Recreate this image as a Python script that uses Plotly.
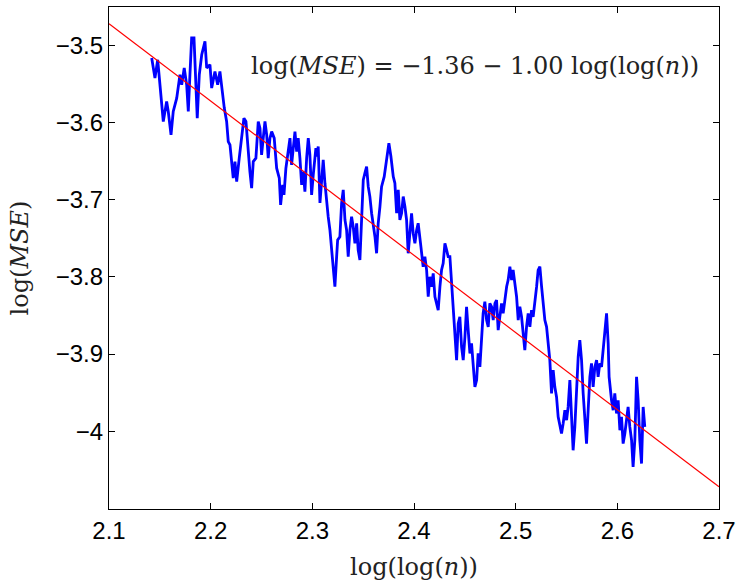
import plotly.graph_objects as go

# ---- data ----
x_loglog_n = [
    2.1420, 2.1452, 2.1479, 2.1501, 2.1518, 2.1534, 2.1567, 2.1583, 2.1610, 2.1632,
    2.1666, 2.1681, 2.1698, 2.1715, 2.1740, 2.1764, 2.1780, 2.1796, 2.1813, 2.1836,
    2.1846, 2.1868, 2.1888, 2.1912, 2.1944, 2.1961, 2.1993, 2.2010, 2.2042, 2.2069,
    2.2091, 2.2114, 2.2134, 2.2157, 2.2173, 2.2190, 2.2207, 2.2222, 2.2239, 2.2256,
    2.2281, 2.2305, 2.2327, 2.2347, 2.2370, 2.2386, 2.2403, 2.2419, 2.2445, 2.2468,
    2.2485, 2.2501, 2.2517, 2.2534, 2.2551, 2.2566, 2.2583, 2.2600, 2.2625, 2.2649,
    2.2675, 2.2688, 2.2708, 2.2721, 2.2740, 2.2763, 2.2780, 2.2796, 2.2812, 2.2829,
    2.2846, 2.2861, 2.2878, 2.2895, 2.2911, 2.2927, 2.2944, 2.2960, 2.2976, 2.2993,
    2.3009, 2.3035, 2.3042, 2.3058, 2.3075, 2.3091, 2.3107, 2.3124, 2.3141, 2.3156,
    2.3173, 2.3190, 2.3206, 2.3222, 2.3239, 2.3249, 2.3271, 2.3288, 2.3304, 2.3321,
    2.3337, 2.3353, 2.3370, 2.3386, 2.3402, 2.3419, 2.3436, 2.3451, 2.3468, 2.3485,
    2.3501, 2.3517, 2.3534, 2.3550, 2.3566, 2.3583, 2.3599, 2.3616, 2.3632, 2.3648,
    2.3665, 2.3681, 2.3707, 2.3731, 2.3753, 2.3773, 2.3796, 2.3812, 2.3829, 2.3845,
    2.3861, 2.3878, 2.3894, 2.3911, 2.3927, 2.3943, 2.3960, 2.3976, 2.3992, 2.4009,
    2.4026, 2.4041, 2.4068, 2.4090, 2.4107, 2.4124, 2.4140, 2.4156, 2.4173, 2.4189,
    2.4206, 2.4222, 2.4238, 2.4255, 2.4271, 2.4287, 2.4304, 2.4321, 2.4336, 2.4353,
    2.4370, 2.4385, 2.4402, 2.4419, 2.4435, 2.4451, 2.4468, 2.4484, 2.4501, 2.4517,
    2.4533, 2.4550, 2.4566, 2.4582, 2.4599, 2.4616, 2.4631, 2.4648, 2.4665, 2.4680,
    2.4697, 2.4714, 2.4730, 2.4746, 2.4763, 2.4779, 2.4796, 2.4812, 2.4828, 2.4845,
    2.4861, 2.4877, 2.4894, 2.4911, 2.4926, 2.4943, 2.4960, 2.4975, 2.4992, 2.5009,
    2.5025, 2.5041, 2.5058, 2.5074, 2.5090, 2.5107, 2.5123, 2.5140, 2.5156, 2.5172,
    2.5189, 2.5206, 2.5221, 2.5238, 2.5255, 2.5270, 2.5287, 2.5304, 2.5320, 2.5336,
    2.5353, 2.5369, 2.5385, 2.5402, 2.5418, 2.5435, 2.5451, 2.5467, 2.5484, 2.5501,
    2.5516, 2.5533, 2.5550, 2.5565, 2.5582, 2.5599, 2.5615, 2.5631, 2.5648, 2.5664,
    2.5680, 2.5697, 2.5713, 2.5730, 2.5746, 2.5762, 2.5779, 2.5796, 2.5811, 2.5828,
    2.5845, 2.5860, 2.5877, 2.5894, 2.5910, 2.5919, 2.5943, 2.5959, 2.5975, 2.5992,
    2.6008, 2.6025, 2.6041, 2.6057, 2.6074, 2.6091, 2.6106, 2.6123, 2.6140, 2.6155,
    2.6172, 2.6189, 2.6205, 2.6221, 2.6238, 2.6254, 2.6270,
]
log_mse = [
    -3.5164, -3.5423, -3.5186, -3.5510, -3.5727, -3.5986, -3.5727, -3.5856, -3.6159, -3.5856,
    -3.5683, -3.5510, -3.5380, -3.5510, -3.5293, -3.5510, -3.5856, -3.5380, -3.4904, -3.4904,
    -3.5293, -3.5942, -3.5380, -3.5121, -3.4948, -3.5293, -3.5250, -3.5553, -3.5337, -3.5510,
    -3.5337, -3.5597, -3.5812, -3.5986, -3.6246, -3.6289, -3.6548, -3.6721, -3.6505, -3.6765,
    -3.6461, -3.6202, -3.5942, -3.5986, -3.6418, -3.6635, -3.6850, -3.6505, -3.6461, -3.5986,
    -3.6072, -3.6418, -3.6202, -3.5986, -3.6159, -3.6461, -3.6202, -3.6116, -3.6202, -3.6591,
    -3.6721, -3.7067, -3.6808, -3.6937, -3.6591, -3.6376, -3.6202, -3.6548, -3.6289, -3.6116,
    -3.6376, -3.6202, -3.6461, -3.6808, -3.6635, -3.6895, -3.6461, -3.6202, -3.6418, -3.6937,
    -3.6678, -3.6331, -3.6440, -3.6311, -3.7041, -3.6743, -3.6483, -3.6786, -3.7041, -3.7219,
    -3.7392, -3.7651, -3.7824, -3.8127, -3.7738, -3.7521, -3.7479, -3.7045, -3.6873, -3.7262,
    -3.7392, -3.7738, -3.7392, -3.7219, -3.7349, -3.7564, -3.7305, -3.7651, -3.7781, -3.7175,
    -3.6743, -3.6656, -3.6570, -3.6830, -3.6959, -3.7175, -3.7305, -3.7479, -3.7694, -3.7305,
    -3.7089, -3.6830, -3.6700, -3.6440, -3.6267, -3.6440, -3.6700, -3.6786, -3.7175, -3.6873,
    -3.7262, -3.7175, -3.6959, -3.7089, -3.7262, -3.7694, -3.7434, -3.7175, -3.7434, -3.7564,
    -3.7392, -3.7305, -3.7608, -3.7868, -3.7738, -3.7911, -3.8257, -3.7998, -3.8127, -3.7954,
    -3.8257, -3.8343, -3.8430, -3.8127, -3.7911, -3.7824, -3.7564, -3.7651, -3.7738, -3.7738,
    -3.8083, -3.8343, -3.8602, -3.9079, -3.8602, -3.8517, -3.8906, -3.9079, -3.8776, -3.8387,
    -3.8689, -3.8992, -3.8862, -3.9121, -3.9425, -3.9338, -3.8992, -3.9166, -3.8819, -3.8473,
    -3.8322, -3.8560, -3.8647, -3.8343, -3.8387, -3.8560, -3.8343, -3.8300, -3.8689, -3.8517,
    -3.8343, -3.8473, -3.8257, -3.8127, -3.8041, -3.7868, -3.8041, -3.7911, -3.8083, -3.8257,
    -3.8560, -3.8387, -3.8517, -3.8732, -3.8949, -3.8647, -3.8473, -3.8647, -3.8430, -3.8517,
    -3.8343, -3.8127, -3.7911, -3.7868, -3.8127, -3.8387, -3.8560, -3.8647, -3.8862, -3.9079,
    -3.9511, -3.9208, -3.9425, -3.9555, -3.9814, -3.9944, -4.0030, -3.9900, -3.9728, -3.9857,
    -3.9685, -3.9338, -3.9944, -4.0247, -3.9944, -3.9425, -3.9036, -3.8819, -3.9079, -3.9511,
    -3.9814, -4.0160, -3.9728, -3.9295, -3.9121, -3.9425, -3.9166, -3.9079, -3.9295, -3.9121,
    -3.9166, -3.8949, -3.8689, -3.8473, -3.8862, -3.9295, -3.9598, -3.9728, -3.9511, -3.9770,
    -3.9598, -3.9987, -3.9814, -4.0160, -4.0030, -3.9814, -3.9685, -3.9944, -4.0117, -4.0463,
    -4.0117, -3.9295, -3.9598, -4.0117, -4.0419, -3.9685, -3.9944,
]

# fitted line  log(MSE) = a + b*log(log(n))
fit_intercept = -1.372
fit_slope = -1.00
fit_x = [2.1, 2.7]
fit_y = [fit_intercept + fit_slope * v for v in fit_x]

x_tick_vals = [2.1, 2.2, 2.3, 2.4, 2.5, 2.6, 2.7]
x_tick_labels = ["2.1", "2.2", "2.3", "2.4", "2.5", "2.6", "2.7"]
y_tick_vals = [-4.0, -3.9, -3.8, -3.7, -3.6, -3.5]
y_tick_labels = ["\u22124", "\u22123.9", "\u22123.8", "\u22123.7", "\u22123.6", "\u22123.5"]

equation_text = "log(<i>MSE</i>) = \u22121.36 \u2212 1.00 log(log(<i>n</i>))"
x_title = "log(log(<i>n</i>))"
y_title = "log(<i>MSE</i>)"

fig = go.Figure()
fig.add_trace(go.Scatter(x=x_loglog_n, y=log_mse, mode="lines",
                         line=dict(color="#0000FF", width=2.8), showlegend=False))
fig.add_trace(go.Scatter(x=fit_x, y=fit_y, mode="lines",
                         line=dict(color="#FF0000", width=1.2), showlegend=False))

serif = "DejaVu Serif, Liberation Serif, serif"
sans = "Liberation Sans, Arial, sans-serif"

axis_common = dict(showgrid=False, zeroline=False, showline=True, linecolor="black",
                   linewidth=1.2, mirror="ticks", ticks="inside", ticklen=6,
                   tickcolor="black", tickwidth=1, automargin=False,
                   tickfont=dict(family=sans, size=24, color="black"))

fig.update_layout(
    width=738, height=583, autosize=False,
    margin=dict(l=109, r=19, t=7, b=74),
    paper_bgcolor="white", plot_bgcolor="white",
    xaxis=dict(range=[2.1, 2.7], tickmode="array", tickvals=x_tick_vals,
               ticktext=x_tick_labels,
               title=dict(text=x_title, font=dict(family=serif, size=24, color="#222"),
                          standoff=15),
               **axis_common),
    yaxis=dict(range=[-4.1008, -3.4502], tickmode="array", tickvals=y_tick_vals,
               ticktext=y_tick_labels,
               title=dict(text=y_title, font=dict(family=serif, size=24, color="#222"),
                          standoff=20),
               **axis_common),
    annotations=[dict(x=2.682, y=-3.527, xref="x", yref="y", xanchor="right",
                      yanchor="middle", showarrow=False, text=equation_text,
                      font=dict(family=serif, size=24, color="#222"))],
)

fig.write_html(
    "out.html",
    config={"displayModeBar": False, "responsive": False},
    post_script="document.body.style.margin='0';document.body.style.overflow='hidden';",
)
